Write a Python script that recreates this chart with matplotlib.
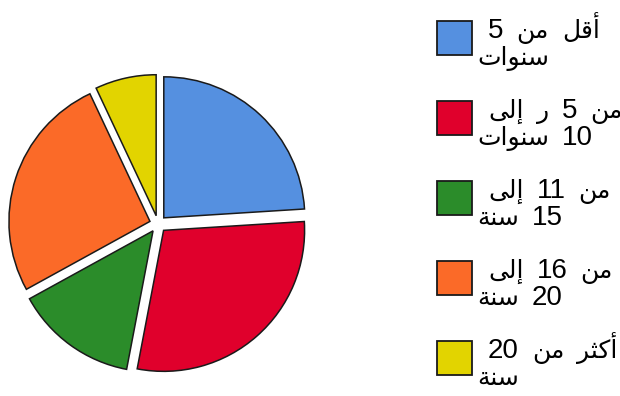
import unicodedata
import matplotlib
matplotlib.use("Agg")
import matplotlib.pyplot as plt
from matplotlib.patches import Rectangle

# share of each group (percent), clockwise from 12 o'clock
categories = ["أقل من 5 سنوات", "من 5 ر إلى 10 سنوات", "من 11 إلى 15 سنة",
              "من 16 إلى 20 سنة", "أكثر من 20 سنة"]
values = [24, 29, 14, 26, 7]
colors = ["#5590e0", "#e0002c", "#2b8c2a", "#fb6a28", "#e2d400"]
# legend text is broken over two lines
label_lines = [("أقل من 5", "سنوات"),
               ("من 5 ر إلى", "10 سنوات"),
               ("من 11 إلى", "15 سنة"),
               ("من 16 إلى", "20 سنة"),
               ("أكثر من 20", "سنة")]

# letters that only join to the letter before them
RIGHT_JOIN = set("اأإآدذرزوؤةى")


def is_arabic(ch):
    return "\u0621" <= ch <= "\u064a"


def form_of(ch, form):
    try:
        return unicodedata.lookup(unicodedata.name(ch) + " " + form)
    except KeyError:
        return ch


def shape_word(word):
    out = []
    for i, ch in enumerate(word):
        if not is_arabic(ch):
            out.append(ch)
            continue
        prev = word[i - 1] if i > 0 else ""
        nxt = word[i + 1] if i + 1 < len(word) else ""
        joins_prev = bool(prev) and is_arabic(prev) and prev not in RIGHT_JOIN
        joins_next = bool(nxt) and is_arabic(nxt) and ch not in RIGHT_JOIN
        if joins_prev and joins_next:
            out.append(form_of(ch, "MEDIAL FORM"))
        elif joins_prev:
            out.append(form_of(ch, "FINAL FORM"))
        elif joins_next:
            out.append(form_of(ch, "INITIAL FORM"))
        else:
            out.append(form_of(ch, "ISOLATED FORM"))
    return "".join(out)


def visual_words(line):
    # words of a right-to-left line, shaped, in left-to-right drawing order
    words = []
    for w in line.split(" "):
        arabic = any(is_arabic(c) for c in w)
        s = shape_word(w)
        words.append((s[::-1] if arabic else s, arabic))
    return words[::-1]


W, H = 620, 396
fig = plt.figure(figsize=(W / 100, H / 100), dpi=100)
fig.patch.set_facecolor("white")

# pie: centre at (158, 224) px, 141 px per unit radius
unit = 141
span = 2.2 * unit
cx, cy = 158, H - 224
ax = fig.add_axes([(cx - span / 2) / W, (cy - span / 2) / H, span / W, span / H])
ax.pie(values, colors=colors, startangle=90, counterclock=False,
       explode=[0.06] * len(values), radius=1.0,
       wedgeprops=dict(edgecolor="#1a1a1a", linewidth=1.1))
ax.set_xlim(-1.1, 1.1)
ax.set_ylim(-1.1, 1.1)
ax.set_aspect("equal")
ax.axis("off")

renderer = fig.canvas.get_renderer()


def draw_line(x, y, line, gap=13):
    # place word by word so digits and Arabic can use their own fonts
    for word, arabic in visual_words(line):
        if arabic:
            t = fig.text(x / W, y / H, word, fontsize=18, family="DejaVu Sans",
                         ha="left", va="baseline", color="black")
        else:
            t = fig.text(x / W, y / H, word, fontsize=20, family="Liberation Sans",
                         ha="left", va="baseline", color="black")
        x = t.get_window_extent(renderer).x1 + gap


# legend drawn by hand: square swatch + two text lines
box_tops = [21, 101, 181, 261, 341]
for top, col, (l1, l2) in zip(box_tops, colors, label_lines):
    fig.patches.append(Rectangle((437 / W, (H - top - 34) / H), 35 / W, 34 / H,
                                 transform=fig.transFigure, facecolor=col,
                                 edgecolor="#1a1a1a", linewidth=1.3))
    draw_line(488, H - top - 17, l1)
    draw_line(477, H - top - 44, l2)

fig.savefig("out.png", dpi=100, facecolor="white")
